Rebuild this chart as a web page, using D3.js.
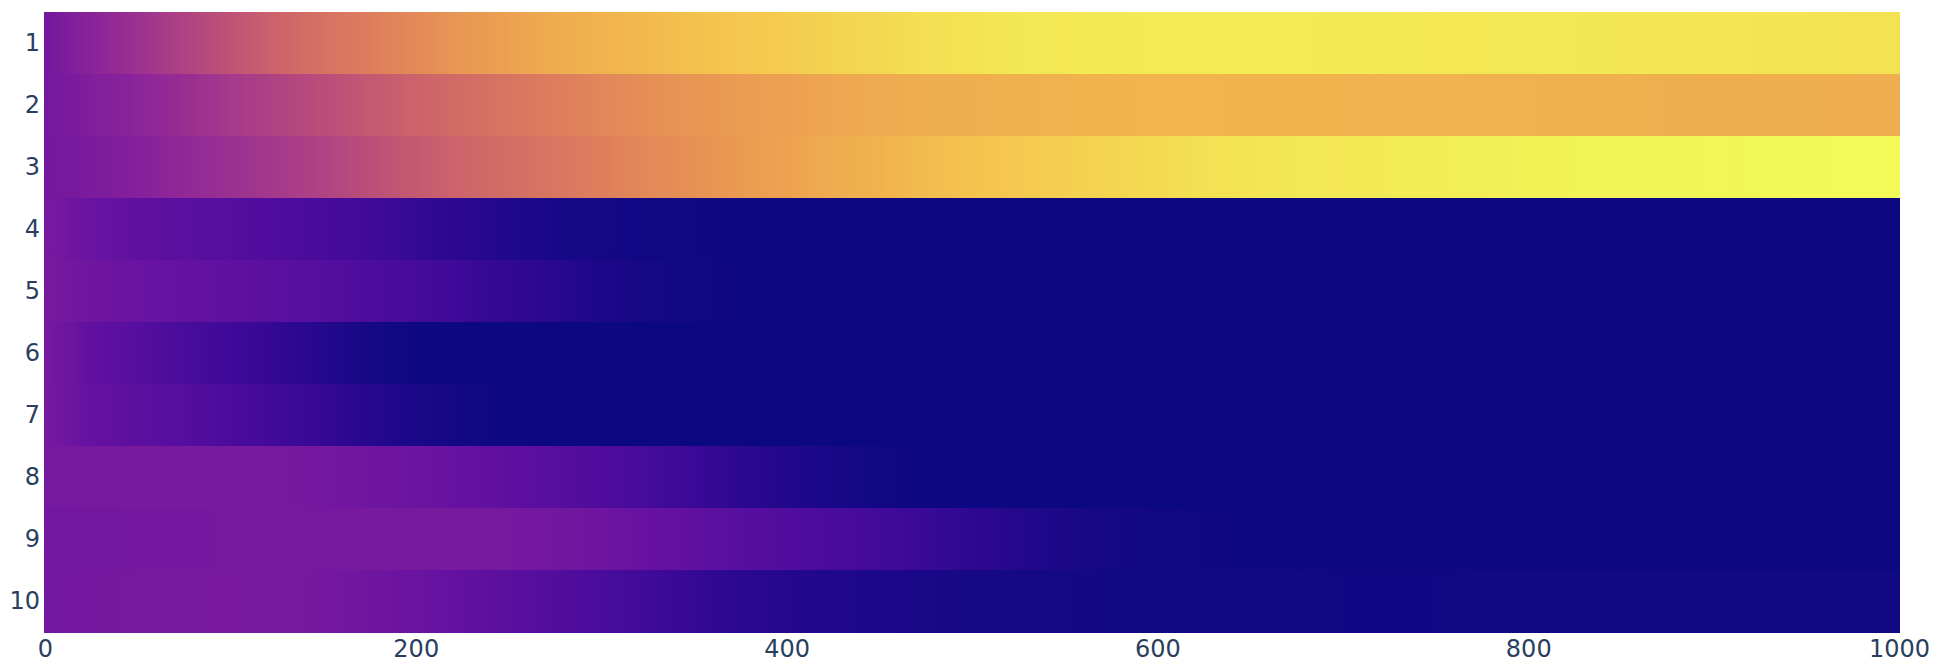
<!DOCTYPE html>
<html>
<head>
<meta charset="utf-8">
<script src="https://cdn.jsdelivr.net/npm/d3@7"></script>
<style>
    html, body { margin: 0; padding: 0; background: #fff; }
    svg { display: block; }
    .tick text { font-family: "DejaVu Sans", Verdana, sans-serif; font-size: 24px; fill: #2a3f5f; }
</style>
</head>
<body>
<svg id="chart"></svg>
<script>
/*
Heatmap of 10 rows over x 0..1000, plasma colours
*/

// Row labels, top to bottom
const rowLabels = [1, 2, 3, 4, 5, 6, 7, 8, 9, 10];

// x positions where each row was read (every 25)
const xValues = [
    0, 25, 50, 75, 100, 125, 150, 175, 200, 225,
    250, 275, 300, 325, 350, 375, 400, 425, 450, 475,
    500, 525, 550, 575, 600, 625, 650, 675, 700, 725,
    750, 775, 800, 825, 850, 875, 900, 925, 950, 975, 1000
];

// Values per row
const row1 = [0.255,0.32,0.38,0.445,0.51,0.57,0.62,0.66,0.70,0.74,
    0.77,0.80,0.82,0.84,0.86,0.875,0.89,0.905,0.92,0.935,
    0.945,0.955,0.96,0.965,0.967,0.968,0.968,0.966,0.964,0.962,
    0.96,0.958,0.956,0.955,0.953,0.952,0.95,0.949,0.948,0.946,0.945];
const row2 = [0.255,0.29,0.325,0.365,0.41,0.45,0.49,0.53,0.57,0.60,
    0.63,0.66,0.69,0.715,0.735,0.755,0.77,0.785,0.795,0.805,
    0.81,0.815,0.82,0.822,0.823,0.823,0.822,0.821,0.82,0.819,
    0.818,0.817,0.816,0.815,0.814,0.812,0.81,0.809,0.808,0.806,0.805];
const row3 = [0.255,0.275,0.305,0.34,0.375,0.41,0.45,0.495,0.535,0.575,
    0.605,0.635,0.665,0.695,0.72,0.75,0.775,0.80,0.82,0.845,
    0.865,0.88,0.895,0.91,0.925,0.94,0.948,0.954,0.96,0.966,
    0.972,0.977,0.982,0.985,0.988,0.99,0.993,0.996,0.998,1.0,1.0];
const row4 = [0.265,0.225,0.20,0.185,0.17,0.155,0.135,0.115,0.09,0.065,
    0.045,0.028,0.018,0.012,0.008,0.004,0.002,0,0,0,
    0,0,0,0,0,0,0,0,0,0,
    0,0,0,0,0,0,0,0,0,0,0];
const row5 = [0.265,0.24,0.225,0.212,0.20,0.185,0.168,0.15,0.13,0.105,
    0.082,0.06,0.037,0.019,0.009,0.003,0.001,0,0,0,
    0,0,0,0,0,0,0,0,0,0,
    0,0,0,0,0,0,0,0,0,0,0];
const row6 = [0.265,0.205,0.168,0.137,0.11,0.085,0.052,0.022,0.004,0,
    0,0,0,0,0,0,0,0,0,0,
    0,0,0,0,0,0,0,0,0,0,
    0,0,0,0,0,0,0,0,0,0,0];
const row7 = [0.265,0.215,0.19,0.168,0.142,0.115,0.088,0.058,0.033,0.015,
    0.004,0,0,0,0,0,0,0,0,0,
    0,0,0,0,0,0,0,0,0,0,
    0,0,0,0,0,0,0,0,0,0,0];
const row8 = [0.26,0.263,0.265,0.265,0.265,0.262,0.254,0.243,0.23,0.215,
    0.198,0.176,0.153,0.127,0.10,0.07,0.047,0.026,0.01,0.003,
    0,0,0,0,0,0,0,0,0,0,
    0,0,0,0,0,0,0,0,0,0,0];
const row9 = [0.25,0.252,0.255,0.257,0.259,0.261,0.263,0.265,0.265,0.265,
    0.26,0.252,0.238,0.22,0.2,0.18,0.16,0.14,0.12,0.098,
    0.075,0.052,0.033,0.02,0.012,0.007,0.004,0.002,0.001,0.001,
    0.001,0.001,0.001,0.001,0.001,0.001,0.001,0.001,0.001,0.001,0.001];
const row10 = [0.25,0.257,0.263,0.267,0.269,0.265,0.256,0.243,0.228,0.21,
    0.188,0.163,0.137,0.112,0.089,0.068,0.053,0.043,0.035,0.029,
    0.024,0.02,0.018,0.016,0.015,0.014,0.013,0.013,0.012,0.012,
    0.012,0.011,0.011,0.011,0.011,0.010,0.010,0.010,0.010,0.010,0.010];

const rows = [row1, row2, row3, row4, row5, row6, row7, row8, row9, row10];

const xTicks = [0, 200, 400, 600, 800, 1000];

// Plotly "Plasma" colour stops
const plasmaStops = ['#0d0887','#46039f','#7201a8','#9c179e','#bd3786',
    '#d8576b','#ed7953','#fb9f3a','#fdca26','#f0f921'];

drawChart();

// Reference picture looks like it went through a P3 colour profile, so mimic that
function toP3(c){
    const rgb = d3.rgb(c);
    const lin = v => { v /= 255; return v <= 0.04045 ? v / 12.92 : Math.pow((v + 0.055) / 1.055, 2.4); };
    const enc = v => { v = Math.max(0, Math.min(1, v)); return 255 * (v <= 0.0031308 ? v * 12.92 : 1.055 * Math.pow(v, 1 / 2.4) - 0.055); };
    const r = lin(rgb.r), g = lin(rgb.g), b = lin(rgb.b);
    return d3.rgb(
        enc(0.8225 * r + 0.1774 * g),
        enc(0.0332 * r + 0.9669 * g),
        enc(0.0171 * r + 0.0724 * g + 0.9108 * b)
    ).formatHex();
}

function drawChart(){

    const width = 1938, height = 672;
    const margin = {top: 12, right: 38, bottom: 40, left: 44};

    const svg = d3.select('#chart')
        .attr('width', width)
        .attr('height', height);

    // Scales
    const x = d3.scaleLinear()
        .domain([-0.5, 1000.5])
        .range([margin.left, width - margin.right]);

    const y = d3.scaleBand()
        .domain(rowLabels)
        .range([margin.top, height - margin.bottom]);

    const allValues = rows.flat();
    const zMin = d3.min(allValues), zMax = d3.max(allValues);
    const plasma = d3.scaleLinear()
        .domain(plasmaStops.map((c, i) => zMin + (zMax - zMin) * i / (plasmaStops.length - 1)))
        .range(plasmaStops)
        .interpolate(d3.interpolateRgb)
        .clamp(true);
    const color = z => toP3(plasma(z));

    // One gradient per row, one stop per reading
    const x0 = x(xValues[0]), x1 = x(xValues[xValues.length - 1]);
    const grads = svg.append('defs')
        .selectAll('linearGradient')
        .data(rows)
        .join('linearGradient')
        .attr('id', (d, i) => `row${i}`)
        .attr('gradientUnits', 'userSpaceOnUse')
        .attr('x1', x0)
        .attr('x2', x1)
        .attr('y1', 0)
        .attr('y2', 0);

    grads.selectAll('stop')
        .data(d => d.map((v, j) => ({x: xValues[j], z: v})))
        .join('stop')
        .attr('offset', d => (x(d.x) - x0) / (x1 - x0))
        .attr('stop-color', d => color(d.z));

    // Heatmap rows
    svg.append('g')
        .selectAll('rect')
        .data(rows)
        .join('rect')
        .attr('x', x(-0.5))
        .attr('width', x(1000.5) - x(-0.5))
        .attr('y', (d, i) => y(rowLabels[i]))
        .attr('height', y.bandwidth() + 0.5)
        .attr('fill', (d, i) => `url(#row${i})`)
        .attr('shape-rendering', 'crispEdges');

    // Axes
    const yAxis = svg.append('g')
        .attr('transform', `translate(${margin.left},0)`)
        .call(d3.axisLeft(y).tickSize(0).tickPadding(4));
    yAxis.select('.domain').remove();

    const xAxis = svg.append('g')
        .attr('transform', `translate(0,${height - margin.bottom})`)
        .call(d3.axisBottom(x).tickValues(xTicks).tickFormat(d3.format('d')).tickSize(0).tickPadding(8));
    xAxis.select('.domain').remove();
}
</script>
</body>
</html>
